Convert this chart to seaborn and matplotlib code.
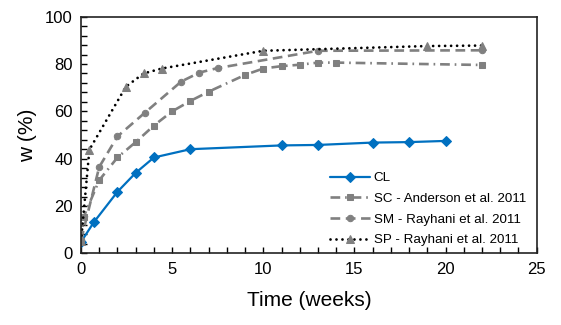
import numpy as np
import pandas as pd
import matplotlib
matplotlib.use("Agg")
import matplotlib.pyplot as plt
import seaborn as sns

# data
cl_t = [0, 0.71, 2, 3, 4, 6, 11, 13, 16, 18, 20]
cl_w = [4.8, 13.2, 26.0, 34.0, 40.5, 44.0, 45.6, 45.8, 46.8, 47.0, 47.5]

sc_t = [0, 0.14, 1, 2, 3, 4, 5, 6, 7, 9, 10, 11, 12, 13, 14, 22]
sc_w = [5.0, 15.3, 30.9, 40.5, 47.0, 54.0, 60.0, 64.4, 68.3, 75.4, 78.1, 79.1, 79.7, 80.6, 80.6, 79.6]

sm_t = [0, 1, 2, 3.5, 5.5, 6.5, 7.5, 13, 22]
sm_w = [5.5, 36.5, 49.4, 59.4, 72.6, 76.4, 78.3, 85.6, 85.8]

sp_t = [0, 0.46, 2.46, 3.43, 4.43, 10, 19, 22]
sp_w = [5.0, 43.8, 70.4, 76.0, 78.1, 85.6, 87.6, 87.8]

labels = ["CL", "SC - Anderson et al. 2011", "SM - Rayhani et al. 2011",
          "SP - Rayhani et al. 2011"]

sns.set_style("white")
plt.rcParams["font.family"] = ["Liberation Sans", "DejaVu Sans"]
plt.rcParams["lines.scale_dashes"] = False
for k in ["text.color", "axes.labelcolor", "xtick.color", "ytick.color"]:
    plt.rcParams[k] = "black"

fig = plt.figure(figsize=(5.61, 3.25), dpi=100)
ax = fig.add_axes([0.1444, 0.2206, 0.8123, 0.728])

blue = "#0070C0"
grey = "#808080"

sns.lineplot(x=cl_t, y=cl_w, ax=ax, color=blue, lw=1.6, marker="D", ms=4.6,
             mec=blue, estimator=None, sort=False, label=labels[0])
sns.lineplot(x=sc_t, y=sc_w, ax=ax, color=grey, lw=1.9, marker="s", ms=4.3,
             mec=grey, estimator=None, sort=False, label=labels[1],
             dashes=False, linestyle=(0, (7.0, 3.5, 1.2, 3.5)))
sns.lineplot(x=sm_t, y=sm_w, ax=ax, color=grey, lw=1.9, marker="o", ms=4.6,
             mec=grey, estimator=None, sort=False, label=labels[2],
             dashes=False, linestyle=(0, (7.0, 4.0)))
sns.lineplot(x=sp_t, y=sp_w, ax=ax, color="black", lw=2.0, marker="^", ms=5.6,
             mec=grey, mfc=grey, estimator=None, sort=False, label=labels[3],
             dashes=False, linestyle=(0, (0.01, 4.3)), dash_capstyle="round")

ax.set_xlim(0, 25)
ax.set_ylim(0, 100)
ax.set_xticks(np.arange(0, 26, 5))
ax.set_yticks(np.arange(0, 101, 20))
ax.set_xticks(np.arange(0, 26, 1), minor=True)
ax.set_yticks(np.arange(0, 101, 4), minor=True)
ax.tick_params(which="both", direction="in", length=4, width=1, color="black",
               labelsize=12, pad=6)
ax.tick_params(which="both", bottom=True, left=True)
for s in ax.spines.values():
    s.set_color("#222222")
    s.set_linewidth(1.2)

ax.set_xlabel("Time (weeks)", fontsize=15, labelpad=10)
ax.set_ylabel("w (%)", fontsize=15, labelpad=6)

leg = ax.legend(loc="lower right", frameon=False, fontsize=9.6,
                handlelength=3.0, handletextpad=0.3, labelspacing=0.62,
                bbox_to_anchor=(1.0, -0.015), borderaxespad=0.4)

fig.savefig("out.png", dpi=100)
